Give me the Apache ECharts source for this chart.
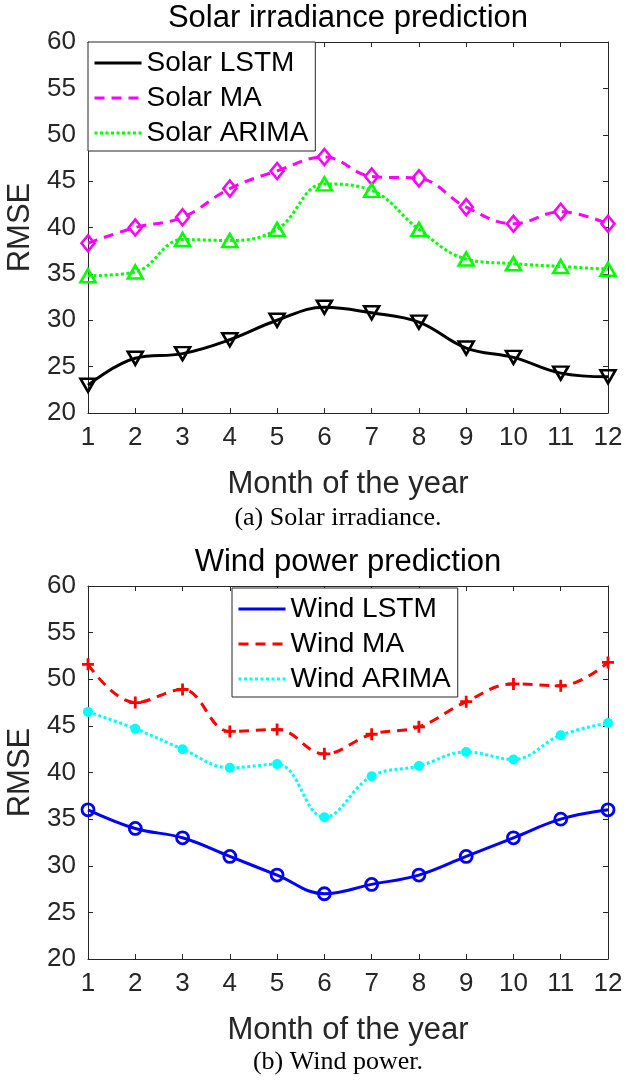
<!DOCTYPE html>
<html><head><meta charset="utf-8">
<script src="https://cdn.jsdelivr.net/npm/echarts@6/dist/echarts.min.js"></script>
<style>html,body{margin:0;padding:0;background:#fff}#c{width:625px;height:1086px}</style>
</head><body><div id="c"></div>
<script>
// ---- data ----
const months = [1, 2, 3, 4, 5, 6, 7, 8, 9, 10, 11, 12];
const yMin = 20, yMax = 60, yStep = 5;
const solarLSTM  = [23.0, 25.9, 26.4, 27.9, 30.0, 31.4, 30.8, 29.8, 27.0, 26.0, 24.3, 23.9];
const solarMA    = [38.3, 40.0, 41.1, 44.2, 46.1, 47.6, 45.5, 45.3, 42.2, 40.4, 41.7, 40.4];
const solarARIMA = [34.8, 35.2, 38.7, 38.6, 39.8, 44.7, 44.0, 39.8, 36.6, 36.1, 35.8, 35.5];
const windLSTM   = [36.0, 34.0, 33.0, 31.0, 29.0, 27.0, 28.0, 29.0, 31.0, 33.0, 35.0, 36.0];
const windMA     = [51.6, 47.5, 48.9, 44.4, 44.6, 42.0, 44.1, 44.9, 47.6, 49.5, 49.3, 51.8];
const windARIMA  = [46.5, 44.7, 42.5, 40.5, 40.9, 35.2, 39.6, 40.7, 42.2, 41.4, 44.0, 45.3];
const titles = ['Solar irradiance prediction', 'Wind power prediction'];
const captions = ['(a) Solar irradiance.', '(b) Wind power.'];
const xName = 'Month of the year';
const yName = 'RMSE';

// ---- styling ----
const SANS = '"Liberation Sans", Arial, Helvetica, sans-serif';
const SERIF = '"Liberation Serif", "Times New Roman", serif';
const AX = '#262626';
const grids = [
  {left: 88, top: 42, width: 520, height: 371},
  {left: 88, top: 586, width: 520, height: 373}
];

function xAxes(gi) {
  const base = {gridIndex: gi, type: 'value', min: 1, max: 12, interval: 1,
    splitLine: {show: false},
    axisLine: {onZero: false, lineStyle: {color: AX, width: 1}},
    axisTick: {inside: true, length: 5, lineStyle: {color: AX, width: 1}}};
  return [
    Object.assign({}, base, {position: 'bottom',
      axisLabel: {fontSize: 26, color: AX, margin: 12, fontFamily: SANS},
      name: xName, nameLocation: 'middle', nameGap: 56,
      nameTextStyle: {fontSize: 31, color: AX, fontFamily: SANS}}),
    Object.assign({}, base, {position: 'top', axisLabel: {show: false}})
  ];
}
function yAxes(gi) {
  const base = {gridIndex: gi, type: 'value', min: yMin, max: yMax, interval: yStep,
    splitLine: {show: false},
    axisLine: {onZero: false, show: true, lineStyle: {color: AX, width: 1}},
    axisTick: {show: true, inside: true, length: 5, lineStyle: {color: AX, width: 1}}};
  return [
    Object.assign({}, base, {position: 'left',
      axisLabel: {fontSize: 26, color: AX, margin: 12, fontFamily: SANS},
      name: yName, nameLocation: 'middle', nameGap: 50, nameRotate: 90,
      nameTextStyle: {fontSize: 31, color: AX, fontFamily: SANS}}),
    Object.assign({}, base, {position: 'right', axisLabel: {show: false}})
  ];
}

function mk(name, vals, gi, color, dash, symbol, size, extra) {
  return Object.assign({
    name: name, type: 'line', xAxisIndex: gi * 2, yAxisIndex: gi * 2,
    data: months.map((m, i) => [m, vals[i]]),
    smooth: 0.4,
    lineStyle: {color: color, width: 3, type: dash},
    symbol: symbol, symbolSize: size,
    itemStyle: {color: 'rgba(0,0,0,0)', borderColor: color, borderWidth: 2.6},
    emphasis: {disabled: true},
    animation: false
  }, extra || {});
}

const DASH = [10, 7];
const DOT = [3, 2.5];
const PLUS = 'path://M0,5L10,5M5,0L5,10';

const series = [
  mk('Solar LSTM', solarLSTM, 0, '#000000', 'solid', 'triangle', [15, 13], {symbolRotate: 180}),
  mk('Solar MA', solarMA, 0, '#ff00ff', DASH, 'diamond', [13, 16]),
  mk('Solar ARIMA', solarARIMA, 0, '#00ff00', DOT, 'triangle', [15, 13]),
  mk('Wind LSTM', windLSTM, 1, '#0000ff', 'solid', 'circle', 12, {itemStyle: {color: 'rgba(0,0,0,0)', borderColor: '#0000ff', borderWidth: 2.8}}),
  mk('Wind MA', windMA, 1, '#ff0000', DASH, PLUS, 12, {itemStyle: {color: 'rgba(0,0,0,0)', borderColor: '#ff0000', borderWidth: 2.8}}),
  mk('Wind ARIMA', windARIMA, 1, '#00ffff', DOT, 'circle', 10, {itemStyle: {color: '#00ffff', borderColor: '#00ffff', borderWidth: 0}})
];

function legend(names, pos) {
  return Object.assign({
    data: names, orient: 'vertical',
    itemWidth: 47, itemHeight: 20, itemGap: 7,
    textStyle: {fontSize: 28, color: '#000', fontFamily: SANS},
    backgroundColor: '#fff', borderColor: AX, borderWidth: 1, borderRadius: 0,
    padding: [7, 7, 4, 5],
    itemStyle: {opacity: 0},
    lineStyle: {width: 3},
    selectedMode: false
  }, pos);
}

const graphic = [];
[[348, 18, titles[0]], [348, 562, titles[1]]].forEach(t => graphic.push({
  type: 'text', x: t[0], y: t[1],
  style: {text: t[2], font: '31px ' + SANS, fill: '#000', align: 'center', verticalAlign: 'middle', textAlign: 'center', textVerticalAlign: 'middle'}
}));
[[338, 518, captions[0]], [338, 1062, captions[1]]].forEach(t => graphic.push({
  type: 'text', x: t[0], y: t[1],
  style: {text: t[2], font: '26px ' + SERIF, fill: '#000', align: 'center', verticalAlign: 'middle', textAlign: 'center', textVerticalAlign: 'middle'}
}));

const chart = echarts.init(document.getElementById('c'), null, {renderer: 'canvas'});
chart.setOption({
  animation: false,
  backgroundColor: '#fff',
  grid: grids.map(g => Object.assign({containLabel: false, outerBoundsMode: 'none'}, g)),
  xAxis: xAxes(0).concat(xAxes(1)),
  yAxis: yAxes(0).concat(yAxes(1)),
  legend: [
    legend(['Solar LSTM', 'Solar MA', 'Solar ARIMA'], {left: 88, top: 42}),
    legend(['Wind LSTM', 'Wind MA', 'Wind ARIMA'], {left: 232, top: 588})
  ],
  series: series,
  graphic: graphic
});
</script></body></html>
